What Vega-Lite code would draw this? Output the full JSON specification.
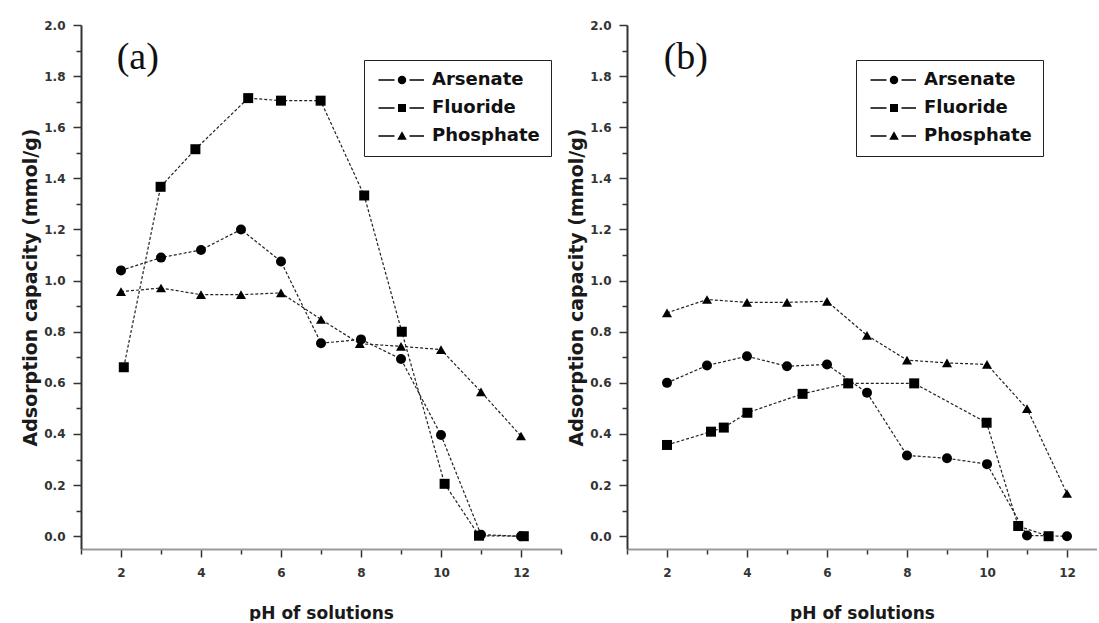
{
  "$schema": "https://vega.github.io/schema/vega-lite/v6.json",
  "background": "white",
  "padding": {"left": 21, "top": 19, "right": 0, "bottom": 0},
  "bounds": "flush",
  "spacing": 66,
  "datasets": {
    "pts": [
      {"panel": "a", "series": "Arsenate", "pH": 2, "q": 1.04},
      {"panel": "a", "series": "Arsenate", "pH": 3, "q": 1.09},
      {"panel": "a", "series": "Arsenate", "pH": 4, "q": 1.12},
      {"panel": "a", "series": "Arsenate", "pH": 5, "q": 1.2},
      {"panel": "a", "series": "Arsenate", "pH": 6, "q": 1.075},
      {"panel": "a", "series": "Arsenate", "pH": 7, "q": 0.755},
      {"panel": "a", "series": "Arsenate", "pH": 8, "q": 0.77},
      {"panel": "a", "series": "Arsenate", "pH": 9, "q": 0.693},
      {"panel": "a", "series": "Arsenate", "pH": 10, "q": 0.396},
      {"panel": "a", "series": "Arsenate", "pH": 11, "q": 0.006},
      {"panel": "a", "series": "Arsenate", "pH": 12, "q": 0.0},
      {"panel": "a", "series": "Fluoride", "pH": 2.07, "q": 0.661},
      {"panel": "a", "series": "Fluoride", "pH": 2.99, "q": 1.367},
      {"panel": "a", "series": "Fluoride", "pH": 3.86, "q": 1.514},
      {"panel": "a", "series": "Fluoride", "pH": 5.18, "q": 1.714},
      {"panel": "a", "series": "Fluoride", "pH": 6.0, "q": 1.704},
      {"panel": "a", "series": "Fluoride", "pH": 6.99, "q": 1.704},
      {"panel": "a", "series": "Fluoride", "pH": 8.08, "q": 1.333},
      {"panel": "a", "series": "Fluoride", "pH": 9.02, "q": 0.8},
      {"panel": "a", "series": "Fluoride", "pH": 10.09, "q": 0.205},
      {"panel": "a", "series": "Fluoride", "pH": 10.95, "q": 0.002},
      {"panel": "a", "series": "Fluoride", "pH": 12.07, "q": 0.0},
      {"panel": "a", "series": "Phosphate", "pH": 2, "q": 0.957},
      {"panel": "a", "series": "Phosphate", "pH": 3, "q": 0.971},
      {"panel": "a", "series": "Phosphate", "pH": 4, "q": 0.945},
      {"panel": "a", "series": "Phosphate", "pH": 5, "q": 0.945},
      {"panel": "a", "series": "Phosphate", "pH": 6, "q": 0.952},
      {"panel": "a", "series": "Phosphate", "pH": 7, "q": 0.848},
      {"panel": "a", "series": "Phosphate", "pH": 7.97, "q": 0.753},
      {"panel": "a", "series": "Phosphate", "pH": 9, "q": 0.743},
      {"panel": "a", "series": "Phosphate", "pH": 10, "q": 0.73},
      {"panel": "a", "series": "Phosphate", "pH": 11, "q": 0.565},
      {"panel": "a", "series": "Phosphate", "pH": 12, "q": 0.392},
      {"panel": "b", "series": "Arsenate", "pH": 2, "q": 0.6},
      {"panel": "b", "series": "Arsenate", "pH": 3, "q": 0.668},
      {"panel": "b", "series": "Arsenate", "pH": 4, "q": 0.704},
      {"panel": "b", "series": "Arsenate", "pH": 5, "q": 0.665},
      {"panel": "b", "series": "Arsenate", "pH": 6, "q": 0.672},
      {"panel": "b", "series": "Arsenate", "pH": 7, "q": 0.561},
      {"panel": "b", "series": "Arsenate", "pH": 8, "q": 0.316},
      {"panel": "b", "series": "Arsenate", "pH": 9, "q": 0.305},
      {"panel": "b", "series": "Arsenate", "pH": 10, "q": 0.282},
      {"panel": "b", "series": "Arsenate", "pH": 11, "q": 0.003},
      {"panel": "b", "series": "Arsenate", "pH": 12, "q": 0.0},
      {"panel": "b", "series": "Fluoride", "pH": 2, "q": 0.357},
      {"panel": "b", "series": "Fluoride", "pH": 3.1, "q": 0.409},
      {"panel": "b", "series": "Fluoride", "pH": 3.42, "q": 0.425},
      {"panel": "b", "series": "Fluoride", "pH": 4.01, "q": 0.483},
      {"panel": "b", "series": "Fluoride", "pH": 5.39, "q": 0.557},
      {"panel": "b", "series": "Fluoride", "pH": 6.53, "q": 0.598},
      {"panel": "b", "series": "Fluoride", "pH": 8.18, "q": 0.598},
      {"panel": "b", "series": "Fluoride", "pH": 9.99, "q": 0.444},
      {"panel": "b", "series": "Fluoride", "pH": 10.78, "q": 0.04},
      {"panel": "b", "series": "Fluoride", "pH": 11.54, "q": 0.0},
      {"panel": "b", "series": "Phosphate", "pH": 2, "q": 0.874},
      {"panel": "b", "series": "Phosphate", "pH": 3, "q": 0.926},
      {"panel": "b", "series": "Phosphate", "pH": 4, "q": 0.915},
      {"panel": "b", "series": "Phosphate", "pH": 5, "q": 0.915},
      {"panel": "b", "series": "Phosphate", "pH": 6, "q": 0.919},
      {"panel": "b", "series": "Phosphate", "pH": 7, "q": 0.786},
      {"panel": "b", "series": "Phosphate", "pH": 8, "q": 0.689},
      {"panel": "b", "series": "Phosphate", "pH": 9, "q": 0.678},
      {"panel": "b", "series": "Phosphate", "pH": 10, "q": 0.672},
      {"panel": "b", "series": "Phosphate", "pH": 11, "q": 0.499},
      {"panel": "b", "series": "Phosphate", "pH": 12, "q": 0.167}
    ]
  },
  "hconcat": [
    {
      "width": 480,
      "height": 524,
      "data": {"name": "pts"},
      "transform": [{"filter": "datum.panel == 'a'"}],
      "encoding": {
        "x": {"field": "pH", "type": "quantitative", "title": "pH of solutions",
          "scale": {"domain": [1, 13], "nice": false, "zero": false},
          "axis": {"values": [1,2,3,4,5,6,7,8,9,10,11,12,13],
            "labelExpr": "datum.value % 2 == 0 ? datum.label : ''",
            "tickSize": {"condition": {"test": "datum.value % 2 == 1", "value": 5}, "value": 8}}},
        "y": {"field": "q", "type": "quantitative", "title": "Adsorption capacity (mmol/g)",
          "scale": {"domain": [-0.05, 2.0], "nice": false, "zero": false},
          "axis": {"values": [0,0.1,0.2,0.3,0.4,0.5,0.6,0.7,0.8,0.9,1.0,1.1,1.2,1.3,1.4,1.5,1.6,1.7,1.8,1.9,2.0],
            "labelExpr": "round(datum.value*10) % 2 == 0 ? format(datum.value, '.1f') : ''",
            "tickSize": {"condition": {"test": "round(datum.value*10) % 2 == 1", "value": 5}, "value": 8}}}
      },
      "layer": [
        {"mark": {"type": "line", "color": "#222", "strokeWidth": 1.2, "strokeDash": [3, 2]},
         "encoding": {"detail": {"field": "series"}}},
        {"mark": {"type": "point", "filled": true, "color": "black", "size": 100, "opacity": 1},
         "encoding": {"shape": {"field": "series", "type": "nominal",
           "scale": {"domain": ["Arsenate", "Fluoride", "Phosphate"], "range": ["circle", "square", "triangle-up"]},
           "legend": null}}},
        {"mark": {"type": "point", "filled": true, "color": "black", "opacity": 0},
         "encoding": {"shape": {"field": "series", "type": "nominal",
           "scale": {"domain": ["Arsenate", "Fluoride", "Phosphate"],
             "range": [
               "M-4.7,-0.13L-1.5,-0.13L-1.5,0.13L-4.7,0.13ZM1.5,-0.13L4.4,-0.13L4.4,0.13L1.5,0.13ZM-0.85,0A0.85,0.85,0,1,1,0.85,0A0.85,0.85,0,1,1,-0.85,0Z",
               "M-4.7,-0.13L-1.5,-0.13L-1.5,0.13L-4.7,0.13ZM1.5,-0.13L4.4,-0.13L4.4,0.13L1.5,0.13ZM-0.8,-0.8L0.8,-0.8L0.8,0.8L-0.8,0.8Z",
               "M-4.7,-0.13L-1.5,-0.13L-1.5,0.13L-4.7,0.13ZM1.5,-0.13L4.4,-0.13L4.4,0.13L1.5,0.13ZM0,-0.95L0.95,0.75L-0.95,0.75Z"]},
           "legend": {"orient": "none", "legendX": 283, "legendY": 35, "title": null,
             "symbolSize": 100, "symbolOffset": 18, "labelOffset": 21,
             "labelFont": "DejaVu Sans", "labelFontWeight": "bold", "labelFontSize": 18, "labelColor": "#111", "labelLimit": 300,
             "padding": 11, "rowPadding": 10, "fillColor": "white", "strokeColor": "#222",
             "symbolOpacity": 1, "symbolFillColor": "black", "symbolStrokeWidth": 0}}}},
        {"data": {"values": [{"px": 2.42, "py": 1.869, "t": "(a)"}]},
         "mark": {"type": "text", "font": "Liberation Serif", "fontSize": 38, "color": "#111", "align": "center", "baseline": "middle"},
         "encoding": {"x": {"field": "px", "type": "quantitative"}, "y": {"field": "py", "type": "quantitative"}, "text": {"field": "t"}}}
      ],
      "resolve": {"scale": {"shape": "independent"}}
    },
    {
      "width": 470,
      "height": 524,
      "data": {"name": "pts"},
      "transform": [{"filter": "datum.panel == 'b'"}],
      "encoding": {
        "x": {"field": "pH", "type": "quantitative", "title": "pH of solutions",
          "scale": {"domain": [1, 12.75], "nice": false, "zero": false},
          "axis": {"values": [1,2,3,4,5,6,7,8,9,10,11,12],
            "labelExpr": "datum.value % 2 == 0 ? datum.label : ''",
            "tickSize": {"condition": {"test": "datum.value % 2 == 1", "value": 5}, "value": 8}}},
        "y": {"field": "q", "type": "quantitative", "title": "Adsorption capacity (mmol/g)",
          "scale": {"domain": [-0.05, 2.0], "nice": false, "zero": false},
          "axis": {"values": [0,0.1,0.2,0.3,0.4,0.5,0.6,0.7,0.8,0.9,1.0,1.1,1.2,1.3,1.4,1.5,1.6,1.7,1.8,1.9,2.0],
            "labelExpr": "round(datum.value*10) % 2 == 0 ? format(datum.value, '.1f') : ''",
            "tickSize": {"condition": {"test": "round(datum.value*10) % 2 == 1", "value": 5}, "value": 8}}}
      },
      "layer": [
        {"mark": {"type": "line", "color": "#222", "strokeWidth": 1.2, "strokeDash": [3, 2]},
         "encoding": {"detail": {"field": "series"}}},
        {"mark": {"type": "point", "filled": true, "color": "black", "size": 100, "opacity": 1},
         "encoding": {"shape": {"field": "series", "type": "nominal",
           "scale": {"domain": ["Arsenate", "Fluoride", "Phosphate"], "range": ["circle", "square", "triangle-up"]},
           "legend": null}}},
        {"mark": {"type": "point", "filled": true, "color": "black", "opacity": 0},
         "encoding": {"shape": {"field": "series", "type": "nominal",
           "scale": {"domain": ["Arsenate", "Fluoride", "Phosphate"],
             "range": [
               "M-4.7,-0.13L-1.5,-0.13L-1.5,0.13L-4.7,0.13ZM1.5,-0.13L4.4,-0.13L4.4,0.13L1.5,0.13ZM-0.85,0A0.85,0.85,0,1,1,0.85,0A0.85,0.85,0,1,1,-0.85,0Z",
               "M-4.7,-0.13L-1.5,-0.13L-1.5,0.13L-4.7,0.13ZM1.5,-0.13L4.4,-0.13L4.4,0.13L1.5,0.13ZM-0.8,-0.8L0.8,-0.8L0.8,0.8L-0.8,0.8Z",
               "M-4.7,-0.13L-1.5,-0.13L-1.5,0.13L-4.7,0.13ZM1.5,-0.13L4.4,-0.13L4.4,0.13L1.5,0.13ZM0,-0.95L0.95,0.75L-0.95,0.75Z"]},
           "legend": {"orient": "none", "legendX": 229, "legendY": 35, "title": null,
             "symbolSize": 100, "symbolOffset": 18, "labelOffset": 21,
             "labelFont": "DejaVu Sans", "labelFontWeight": "bold", "labelFontSize": 18, "labelColor": "#111", "labelLimit": 300,
             "padding": 11, "rowPadding": 10, "fillColor": "white", "strokeColor": "#222",
             "symbolOpacity": 1, "symbolFillColor": "black", "symbolStrokeWidth": 0}}}},
        {"data": {"values": [{"px": 2.47, "py": 1.869, "t": "(b)"}]},
         "mark": {"type": "text", "font": "Liberation Serif", "fontSize": 38, "color": "#111", "align": "center", "baseline": "middle"},
         "encoding": {"x": {"field": "px", "type": "quantitative"}, "y": {"field": "py", "type": "quantitative"}, "text": {"field": "t"}}}
      ],
      "resolve": {"scale": {"shape": "independent"}}
    }
  ],
  "resolve": {"scale": {"shape": "independent"}, "legend": {"shape": "independent"}},
  "config": {
    "view": {"stroke": null},
    "axis": {"grid": false, "domainWidth": 2, "tickWidth": 1.5, "tickColor": "#333",
      "labelFont": "DejaVu Sans", "labelFontWeight": "bold", "labelFontSize": 12, "labelColor": "#333",
      "titleFont": "DejaVu Sans", "titleFontWeight": "bold", "titleColor": "#1a1a1a"},
    "axisX": {"domainColor": "#999", "labelPadding": 10, "titlePadding": 27, "titleFontSize": 17, "labelFlush": false},
    "axisY": {"domainColor": "#333", "labelPadding": 8, "titlePadding": 3, "titleFontSize": 19}
  }
}
